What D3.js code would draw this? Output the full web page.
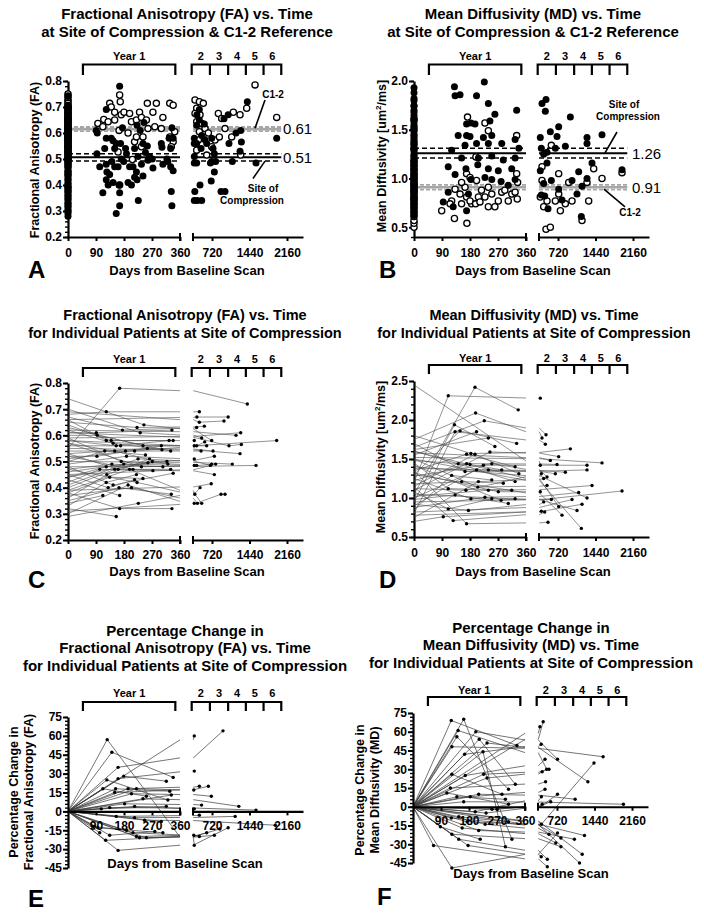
<!DOCTYPE html>
<html><head><meta charset="utf-8">
<script src="https://cdn.jsdelivr.net/npm/d3@7"></script>
<style>
body{margin:0;background:#fff;}
svg{display:block;background:#fff;}
</style></head><body>
<script>
// ---------------- DATA ----------------
const xTicksLeft = [0, 90, 180, 270, 360];
const xTicksLeftPct = [90, 180, 270, 360];
const xTicksRight = [720, 1440, 2160];
const yearLabels = ["2", "3", "4", "5", "6"];
const year1Span = [48, 345];
const yearEdges = [330, 680, 1030, 1370, 1710, 2050];
const faTicks = [0.2, 0.3, 0.4, 0.5, 0.6, 0.7, 0.8];
const mdTicksB = [0.5, 1.0, 1.5, 2.0];
const mdTicksD = [0.5, 1.0, 1.5, 2.0, 2.5];
const pctTicks = [-45, -30, -15, 0, 15, 30, 45, 60, 75];

// reference lines: [mean, lower, upper]
const faCompRef = [0.507, 0.492, 0.52];
const faC12Ref = [0.615, 0.607, 0.623];
const mdCompRef = [1.26, 1.21, 1.31];
const mdC12Ref = [0.91, 0.885, 0.935];
const refEndDay = 2050;

// FA at site of compression per patient: [baseline, day, FA, day, FA, ...]
const faTraces = [
 [0.55,166,0.78,1398,0.72],[0.68,123,0.69,477,0.69],[0.61,91,0.61,334,0.62],[0.60,94,0.60,330,0.54],
 [0.52,93,0.52,300,0.56],[0.42,102,0.47,273,0.465],[0.66,123,0.58,338,0.58],[0.50,118,0.54,249,0.525],
 [0.44,123,0.48,318,0.50],[0.36,125,0.45,262,0.51],[0.38,134,0.44,241,0.435],[0.33,123,0.42,220,0.45],
 [0.45,129,0.40,214,0.43],[0.34,112,0.37],[0.64,139,0.58,380,0.58],[0.62,145,0.57,302,0.545],
 [0.58,155,0.56,325,0.58],[0.57,150,0.54,321,0.49],[0.47,141,0.49,305,0.48],[0.40,150,0.47,257,0.495],
 [0.53,161,0.47,330,0.47],[0.48,145,0.41,338,0.455],[0.35,164,0.40,332,0.375],[0.43,166,0.37],
 [0.38,166,0.32,334,0.32],[0.32,155,0.29],[0.67,175,0.62,426,0.63],[0.56,169,0.56,426,0.56],
 [0.49,188,0.52,380,0.51],[0.59,171,0.50,426,0.485],[0.46,179,0.49,380,0.485],[0.39,198,0.47,390,0.375],
 [0.30,193,0.41,380,0.34],[0.37,204,0.40,440,0.34],[0.51,185,0.54,510,0.54],[0.65,222,0.63,573,0.635],
 [0.70,232,0.61,522,0.59],[0.63,241,0.56,618,0.56],[0.54,214,0.54,580,0.575],[0.41,225,0.51,690,0.485],
 [0.57,236,0.48,714,0.49],[0.52,209,0.47,765,0.45],[0.47,222,0.42,522,0.34],[0.29,226,0.34,490,0.40],
 [0.74,244,0.64,714,0.58],[0.53,255,0.55,740,0.54],[0.44,271,0.50,765,0.52],[0.66,430,0.67,1030,0.67],
 [0.69,477,0.65,950,0.655],[0.58,380,0.56,1962,0.58],[0.45,790,0.49],[0.39,705,0.415],
 [0.31,893,0.375,970,0.375],[0.61,1046,0.56,1284,0.565],[0.50,1110,0.49],[0.62,1181,0.60],
 [0.59,1271,0.61],[0.55,1258,0.53],[0.48,1565,0.485]
];
const faBaselineOnly = [0.28,0.30,0.318,0.33,0.347,0.36,0.372,0.39,0.404,0.42,0.437,0.452,0.47,0.483,0.497,0.506,0.517,0.533,0.546,0.563,0.577,0.593,0.604,0.622,0.636,0.647,0.654,0.673,0.684,0.697,0.705];
const c12FaBaseline = [0.75,0.742,0.73,0.722,0.714,0.706,0.70,0.694,0.688,0.68,0.674,0.668,0.66,0.655,0.65,0.644,0.64,0.633,0.628,0.624,0.618,0.612,0.606,0.60,0.594,0.588,0.584,0.578,0.57,0.565,0.558,0.55,0.544,0.537,0.53,0.52,0.51,0.50,0.49];
const c12FaVisits = [
 [96,0.637],[115,0.652],[112,0.624],[134,0.714],[139,0.70],[150,0.68],[129,0.643],[150,0.65],[166,0.746],
 [168,0.72],[171,0.67],[164,0.61],[180,0.68],[161,0.527],[166,0.40],[198,0.675],[204,0.643],[220,0.65],
 [193,0.60],[214,0.566],[220,0.585],[230,0.68],[236,0.66],[252,0.65],[241,0.585],[257,0.617],[255,0.714],
 [236,0.547],[273,0.68],[284,0.714],[279,0.624],[305,0.66],[300,0.617],[327,0.714],[338,0.707],[327,0.585],
 [338,0.566],[343,0.605],[332,0.547],[207,0.498],
 [394,0.727],[477,0.72],[553,0.714],[426,0.695],[394,0.675],[490,0.67],[426,0.643],[522,0.637],[586,0.617],
 [477,0.605],[650,0.60],[458,0.573],[842,0.675],[906,0.656],[778,0.573],[714,0.547],[861,0.585],[970,0.617],
 [1130,0.68],[1258,0.67],[1386,0.695],[1546,0.785],[426,0.534],[618,0.515],[1271,0.515],[1962,0.66],[1098,0.585]
];

// MD at site of compression per patient: [baseline, day, MD, day, MD, ...]
const mdTraces = [
 [1.20,110,2.31,380,2.28],[1.05,196,2.42,335,2.13],[2.45,380,1.42],[1.75,198,2.09,413,1.77],
 [1.65,226,1.99,490,1.81],[0.95,130,1.94,260,1.66],[0.80,132,1.85,477,1.69],[1.30,148,1.86,330,1.70],
 [1.55,201,1.85],[1.62,239,1.77],[1.80,183,1.57,957,1.63],[1.15,196,1.56,337,1.31],
 [1.35,169,1.56,325,1.40],[1.10,244,1.59,733,1.53],[1.60,142,1.44,325,1.21],[1.22,169,1.44,701,1.43],
 [1.48,180,1.43,282,1.36],[0.90,223,1.42,1277,1.42],[1.28,250,1.44,509,1.27],[1.00,201,1.36,669,1.31],
 [1.38,239,1.36,861,1.33],[0.85,121,1.29,250,1.23],[1.70,164,1.34,1277,1.36],[1.18,153,1.21,287,1.19],
 [0.75,207,1.21,445,1.25],[1.45,110,1.12,314,1.10],[1.12,167,1.10,400,1.31],[1.50,205,1.14,509,1.16],
 [1.02,239,1.10,1373,1.16],[1.32,271,1.08,380,1.08],[0.98,132,1.04,303,0.93],[1.25,183,0.99,592,0.98],
 [0.88,228,1.01,1117,1.07],[1.42,280,0.97,325,0.99],[1.08,110,0.86,250,0.99],[0.92,175,0.84,445,0.95],
 [0.70,94,0.76,400,0.83],[1.14,126,0.71,464,0.82],[1.35,169,0.67,528,0.69],[1.58,573,1.48],
 [1.60,733,0.89],[1.30,797,0.78],[0.82,989,0.98],[1.05,1085,0.84],[1.50,1168,0.61],[0.78,1181,0.92],
 [1.40,1277,1.00],[0.95,1949,1.09],[1.52,1565,1.45]
];
const mdBaselineOnly = [0.62,0.66,0.73,0.79,0.87,0.94,1.03,1.09,1.17,1.23,1.31,1.37,1.44,1.53,1.61,1.68,1.74,1.82,1.88,1.93];
const c12MdBaseline = [0.50,0.54,0.57,0.61,0.64,0.67,0.70,0.73,0.76,0.79,0.81,0.84,0.87,0.89,0.92,0.95,0.98,1.01,1.05,1.09,1.13,1.18];
const c12MdVisits = [
 [89,0.67],[121,0.77],[132,0.89],[148,0.84],[164,0.91],[130,0.59],[116,0.74],[153,0.74],[169,0.81],[185,0.74],
 [172,1.63],[169,1.05],[153,0.96],[180,1.01],[201,0.98],[170,0.54],[180,0.77],[198,0.74],[207,0.81],[217,0.88],
 [228,0.81],[239,0.91],[250,0.84],[260,0.71],[271,0.77],[282,0.86],[292,0.88],[303,0.77],[314,0.84],[325,0.86],
 [332,0.79],[199,1.22],[228,1.57],[239,1.49],[330,1.44],[333,0.96],[239,0.71],[212,0.76],[330,1.05],
 [413,1.12],[413,0.98],[380,0.81],[445,0.71],[490,0.48],[573,0.50],[592,1.34],[733,1.05],[765,0.67],[861,0.74],
 [989,0.77],[925,0.96],[1181,0.57],[1277,0.96],[1309,0.77],[1405,1.10],[1565,1.00],[1949,1.06],[669,0.77],
 [733,0.84],[509,0.77]
];

// percentage change per patient: [day, %, day, %, ...] (baseline = 0 at day 0)
const faPctTraces = [
 [126,57,380,-27],[141,47,338,27],[161,35,931,64],[161,26,380,32],[125,25,321,9],[112,18,252,12],
 [153,18,327,16],[179,28,316,24],[193,18,477,20],[150,15,650,20],[204,14,707,12],[220,18,370,17],
 [241,10,1235,4],[182,6,520,5],[107,2,316,4],[134,3,1565,1],[214,4,380,2],[332,13],
 [80,-12,188,-15],[96,-13,305,-17],[209,-17,477,-20],[220,-20,370,-19],[230,-21,765,-19],[252,-21,618,-17],
 [134,-19,279,-16],[121,-23,870,-14],[161,-31,1030,-13],[155,-4,477,-3],[214,-5,1165,-4],[246,-7,1935,-11],
 [380,60],[102,-17],[300,-8]
];
const mdPctTraces = [
 [123,69,334,49],[163,70,318,-26],[145,61,522,30],[141,56,307,14],[125,48,1605,40],[202,60,730,38],
 [213,54,329,18],[238,51,1313,20],[225,44,297,-32],[166,42,417,50],[125,26,286,10],[168,25,490,38],
 [227,26,566,30],[238,23,436,28],[211,10,1068,6],[120,15,501,20],[109,11,307,2],[141,8,297,6],
 [163,4,1995,2],[184,8,490,14],[254,-2,599,4],[270,-2,436,2],[235,-5,730,10],[200,-4,420,8],
 [147,-8,307,-12],[123,-9,795,-25],[174,-12,1248,-23],[232,-14,566,-22],[88,-16,216,-26],[158,-17,697,-29],
 [211,-19,1054,-26],[125,-22,795,-32],[147,-26,534,-42],[177,-31,417,-40],[66,-31,534,-48],[125,-49,730,-21],
 [392,64],[455,68],[420,-14,1430,35],[1204,-38],[1152,-45]
];

// ---------------- DRAWING ----------------
const FONT = '"Liberation Sans", Arial, Helvetica, sans-serif';
const svg = d3.select("body").append("svg").attr("width", 704).attr("height", 916);

function makePanel(cfg) {
  const ax = cfg.ax;
  const xL = d3.scaleLinear().domain([0, 360]).range([ax, ax + 112]);
  const ref = d3.scaleLinear().domain([720, 2160]).range([ax + 144, ax + 219]);
  const rMin = ref.invert(ax + 125), rMax = ref.invert(ax + 235);
  const xR = d3.scaleLinear().domain([rMin, rMax]).range([ax + 125, ax + 235]);
  const y = d3.scaleLinear().domain(cfg.yDomain).range([cfg.bottom, cfg.top]);
  const g = svg.append("g");
  return {g, ax, xL, xR, rMin, rMax, y, cfg, xAt: d => d <= 360 ? xL(d) : xR(d)};
}

function text(g, str, x, y, size, weight, anchor) {
  return g.append("text").attr("x", x).attr("y", y).attr("text-anchor", anchor || "middle")
    .attr("fill", "#000").style("font", `${weight || "bold"} ${size}px ${FONT}`).text(str);
}

function titles(lines, cx, baselines, size) {
  lines.forEach((l, i) => text(svg, l, cx, baselines[i], size || 15));
}

function yLabel(parts, x, cy, size) {
  const t = svg.append("text").attr("transform", `translate(${x},${cy}) rotate(-90)`)
    .attr("text-anchor", "middle").attr("fill", "#000").style("font", `bold ${size}px ${FONT}`);
  parts.forEach(p => {
    const s = t.append("tspan").text(p.t);
    if (p.sup) s.attr("dy", -5).style("font-size", "8px");
    if (p.after) s.attr("dy", 5);
  });
}

function drawAxes(P, major, minor, fmt, zeroAxis, xLabelPad) {
  const {g, y, xL, xR, ax, cfg} = P;
  const gm = g.append("g").attr("transform", `translate(${ax},0)`)
    .call(d3.axisLeft(y).tickValues(minor).tickSize(3).tickSizeOuter(0).tickFormat(""));
  gm.select(".domain").remove();
  gm.selectAll("line").attr("stroke", "#000").attr("stroke-width", 1.4);
  const gy = g.append("g").attr("transform", `translate(${ax},0)`)
    .call(d3.axisLeft(y).tickValues(major).tickSize(5).tickSizeOuter(0).tickPadding(1).tickFormat(fmt));
  gy.select(".domain").attr("stroke", "#000").attr("stroke-width", 2.2);
  gy.selectAll(".tick line").attr("stroke", "#000").attr("stroke-width", 2);
  gy.selectAll("text").attr("fill", "#000").style("font", `bold 12px ${FONT}`);
  const axisY = zeroAxis ? y(0) : cfg.bottom;
  const leftTicks = zeroAxis ? xTicksLeftPct : xTicksLeft;
  [[xL, leftTicks], [xR, xTicksRight]].forEach(([sc, ticks]) => {
    const gx = g.append("g").attr("transform", `translate(0,${axisY})`)
      .call(d3.axisBottom(sc).tickValues(ticks).tickSize(4).tickSizeOuter(0)
        .tickPadding(xLabelPad).tickFormat(d3.format("d")));
    gx.select(".domain").attr("stroke", "#000").attr("stroke-width", 2.2);
    gx.selectAll(".tick line").attr("stroke", "#000").attr("stroke-width", 2);
    gx.selectAll("text").attr("fill", "#000").style("font", `bold 12px ${FONT}`);
  });
  [xL(360), xR.range()[0]].forEach(x =>
    g.append("line").attr("x1", x).attr("x2", x).attr("y1", axisY - 4).attr("y2", axisY + 4)
      .attr("stroke", "#000").attr("stroke-width", 2));
}

function brackets(P, yText, yLine, yBottom) {
  const {g, xL, xR} = P;
  const bp = (x1, x2) => `M${x1},${yBottom}V${yLine}H${x2}V${yBottom}`;
  g.append("path").attr("d", bp(xL(year1Span[0]), xL(year1Span[1])))
    .attr("fill", "none").attr("stroke", "#000").attr("stroke-width", 2.2);
  text(g, "Year 1", xL((year1Span[0] + year1Span[1]) / 2), yText, 11);
  g.append("path").attr("d", bp(xR(yearEdges[0]), xR(yearEdges[yearEdges.length - 1])))
    .attr("fill", "none").attr("stroke", "#000").attr("stroke-width", 2.2);
  yearEdges.slice(1, -1).forEach(d => g.append("line").attr("x1", xR(d)).attr("x2", xR(d))
    .attr("y1", yLine).attr("y2", yBottom).attr("stroke", "#000").attr("stroke-width", 2.2));
  yearLabels.forEach((l, i) => text(g, l, (xR(yearEdges[i]) + xR(yearEdges[i + 1])) / 2, yText, 11));
}

function pieces(pts, lo, hi) {
  const out = [];
  for (let i = 0; i < pts.length - 1; i++) {
    const [d1, v1] = pts[i], [d2, v2] = pts[i + 1];
    const a = Math.max(d1, lo), b = Math.min(d2, hi);
    if (b <= a) continue;
    const f = d => v1 + (v2 - v1) * (d - d1) / (d2 - d1);
    out.push([[a, f(a)], [b, f(b)]]);
  }
  return out;
}

function drawTraces(P, traces, color, width) {
  const {g, xL, xR, y} = P;
  traces.forEach(pts => {
    pieces(pts, 0, 360).forEach(s => g.append("line")
      .attr("x1", xL(s[0][0])).attr("y1", y(s[0][1])).attr("x2", xL(s[1][0])).attr("y2", y(s[1][1]))
      .attr("stroke", color).attr("stroke-width", width));
    pieces(pts, 360, P.rMax).forEach(s => g.append("line")
      .attr("x1", xR(s[0][0])).attr("y1", y(s[0][1])).attr("x2", xR(s[1][0])).attr("y2", y(s[1][1]))
      .attr("stroke", color).attr("stroke-width", width));
  });
  traces.forEach(pts => pts.slice(1).forEach(([d, v]) => g.append("circle")
    .attr("cx", P.xAt(d)).attr("cy", y(v)).attr("r", 1.7).attr("fill", "#000")));
}

function refLines(P, vals, color, meanW, dashW, dash) {
  const {g, xL, xR, y} = P;
  vals.forEach((v, i) => {
    [[xL(0), xL(360)], [xR(P.rMin), xR(refEndDay)]].forEach(([x1, x2]) => g.append("line")
      .attr("x1", x1).attr("x2", x2).attr("y1", y(v)).attr("y2", y(v))
      .attr("stroke", color).attr("stroke-width", i === 0 ? meanW : dashW)
      .attr("stroke-dasharray", i === 0 ? null : dash));
  });
}

function scatter(P, openPts, filledPts) {
  const {g, y} = P;
  const [lo, hi] = P.cfg.yDomain;
  openPts.filter(p => p[1] >= lo && p[1] <= hi).forEach(([d, v]) => g.append("circle")
    .attr("cx", P.xAt(d)).attr("cy", y(v)).attr("r", 3.1).attr("fill", "#fff")
    .attr("stroke", "#000").attr("stroke-width", 1.3));
  filledPts.filter(p => p[1] >= lo && p[1] <= hi).forEach(([d, v]) => g.append("circle")
    .attr("cx", P.xAt(d)).attr("cy", y(v)).attr("r", 3.5).attr("fill", "#000"));
}

const toPts = t => { const p = [[0, t[0]]]; for (let i = 1; i < t.length; i += 2) p.push([t[i], t[i + 1]]); return p; };
const toPctPts = t => { const p = [[0, 0]]; for (let i = 0; i < t.length; i += 2) p.push([t[i], t[i + 1]]); return p; };
const leader = (g, x1, y1, x2, y2) => g.append("line").attr("x1", x1).attr("y1", y1).attr("x2", x2).attr("y2", y2)
  .attr("stroke", "#000").attr("stroke-width", 1.6);
const fmt1 = d3.format(".1f");
const minorFA = d3.range(0.2, 0.8001, 0.02);
const minorMD = d3.range(0.4, 2.5001, 0.1);
const minorPct = d3.range(-45, 75.001, 3);
const faPts = faTraces.map(toPts);
const mdPts = mdTraces.map(toPts);

// ---------- Panel A ----------
{
  const P = makePanel({ax: 68, top: 81, bottom: 237, yDomain: [0.2, 0.8]});
  titles(["Fractional Anisotropy (FA) vs. Time", "at Site of Compression & C1-2 Reference"], 187, [19, 37]);
  brackets(P, 60, 64.5, 75);
  drawAxes(P, faTicks, minorFA, fmt1, false, 7);
  refLines(P, faC12Ref, "#a6a6a6", 2.6, 1.8, "4,2");
  refLines(P, faCompRef, "#000", 2, 1.5, "5,3");
  const open = c12FaBaseline.map(v => [0, v]).concat(c12FaVisits);
  const filled = faPts.flat().concat(faBaselineOnly.map(v => [0, v]));
  scatter(P, open, filled);
  const g = P.g, y = P.y, ax = P.ax;
  text(g, "0.61", ax + 215, y(faC12Ref[0]) + 5, 15, "normal", "start");
  text(g, "0.51", ax + 215, y(faCompRef[0]) + 6, 15, "normal", "start");
  text(g, "C1-2", ax + 205, y(0.735), 10);
  leader(g, ax + 187, y(0.618), ax + 197, y(0.727));
  text(g, "Site of", ax + 195, y(0.373), 10);
  text(g, "Compression", ax + 184, y(0.327), 10);
  leader(g, ax + 197, y(0.492), ax + 185, y(0.425));
  yLabel([{t: "Fractional Anisotropy (FA)"}], 39, 160, 12.5);
  text(svg, "Days from Baseline Scan", ax + 119, 275, 13);
  text(svg, "A", 28, 278, 24, "bold", "start");
}

// ---------- Panel B ----------
{
  const P = makePanel({ax: 414, top: 81, bottom: 237, yDomain: [0.4, 2.0]});
  titles(["Mean Diffusivity (MD) vs. Time", "at Site of Compression & C1-2 Reference"], 533, [19, 37]);
  brackets(P, 60, 64.5, 75);
  drawAxes(P, mdTicksB, minorMD.filter(v => v <= 2.0001), fmt1, false, 7);
  refLines(P, mdC12Ref, "#a6a6a6", 2.6, 1.8, "4,2");
  refLines(P, mdCompRef, "#000", 2, 1.5, "5,3");
  const open = c12MdBaseline.map(v => [0, v]).concat(c12MdVisits);
  const filled = mdPts.flat().concat(mdBaselineOnly.map(v => [0, v]));
  scatter(P, open, filled);
  const g = P.g, y = P.y, ax = P.ax;
  text(g, "1.26", ax + 218, y(mdCompRef[0]) + 6, 15, "normal", "start");
  text(g, "0.91", ax + 218, y(mdC12Ref[0]) + 6, 15, "normal", "start");
  text(g, "Site of", ax + 210, y(1.723), 10);
  text(g, "Compression", ax + 214, y(1.60), 10);
  leader(g, ax + 203, y(1.477), ax + 191, y(1.262));
  text(g, "C1-2", ax + 216, y(0.615), 10);
  leader(g, ax + 211, y(0.708), ax + 190, y(0.892));
  yLabel([{t: "Mean Diffusivity [um"}, {t: "2", sup: true}, {t: "/ms]", after: true}], 386, 156, 12.5);
  text(svg, "Days from Baseline Scan", ax + 119, 275, 13);
  text(svg, "B", 379, 278, 24, "bold", "start");
}

// ---------- Panel C ----------
{
  const P = makePanel({ax: 68, top: 383, bottom: 540, yDomain: [0.2, 0.8]});
  titles(["Fractional Anisotropy (FA) vs. Time", "for Individual Patients at Site of Compression"], 185, [320, 338], 14.5);
  brackets(P, 363, 368, 377);
  drawAxes(P, faTicks, minorFA, fmt1, false, 6);
  drawTraces(P, faPts, "#4a4a4a", 0.6);
  yLabel([{t: "Fractional Anisotropy (FA)"}], 39, 461, 12.5);
  text(svg, "Days from Baseline Scan", P.ax + 119, 576, 13);
  text(svg, "C", 28, 588, 24, "bold", "start");
}

// ---------- Panel D ----------
{
  const P = makePanel({ax: 414, top: 381, bottom: 537, yDomain: [0.5, 2.5]});
  titles(["Mean Diffusivity (MD) vs. Time", "for Individual Patients at Site of Compression"], 534, [320, 338], 14.5);
  brackets(P, 362, 365, 374);
  drawAxes(P, mdTicksD, minorMD.filter(v => v >= 0.4999), fmt1, false, 7);
  drawTraces(P, mdPts, "#4a4a4a", 0.6);
  yLabel([{t: "Mean Diffusivity [um"}, {t: "2", sup: true}, {t: "/ms]", after: true}], 385, 457, 12.5);
  text(svg, "Days from Baseline Scan", P.ax + 119, 576, 13);
  text(svg, "D", 379, 588, 24, "bold", "start");
}

// ---------- Panel E ----------
{
  const P = makePanel({ax: 68, top: 717, bottom: 868, yDomain: [-45, 75]});
  titles(["Percentage Change in", "Fractional Anisotropy (FA) vs. Time", "for Individual Patients at Site of Compression"], 185, [636, 653, 671]);
  brackets(P, 697, 702, 711);
  drawTraces(P, faPctTraces.map(toPctPts), "#3a3a3a", 0.7);
  drawAxes(P, pctTicks, minorPct, d => d, true, 6);
  yLabel([{t: "Percentage Change in"}], 18, 792, 12.5);
  yLabel([{t: "Fractional Anisotropy (FA)"}], 33, 792, 12.5);
  text(svg, "Days from Baseline Scan", P.ax + 117, 868, 13);
  text(svg, "E", 28, 907, 24, "bold", "start");
}

// ---------- Panel F ----------
{
  const P = makePanel({ax: 413, top: 713, bottom: 863, yDomain: [-45, 75]});
  titles(["Percentage Change in", "Mean Diffusivity (MD) vs. Time", "for Individual Patients at Site of Compression"], 531, [633, 650, 668]);
  brackets(P, 694, 697, 706);
  drawTraces(P, mdPctTraces.map(toPctPts), "#3a3a3a", 0.7);
  drawAxes(P, pctTicks, minorPct, d => d, true, 6);
  yLabel([{t: "Percentage Change in"}], 364, 790, 12.5);
  yLabel([{t: "Mean Diffusivity (MD)"}], 379, 790, 12.5);
  text(svg, "Days from Baseline Scan", P.ax + 118, 878, 13);
  text(svg, "F", 377, 905, 24, "bold", "start");
}
</script></body></html>
